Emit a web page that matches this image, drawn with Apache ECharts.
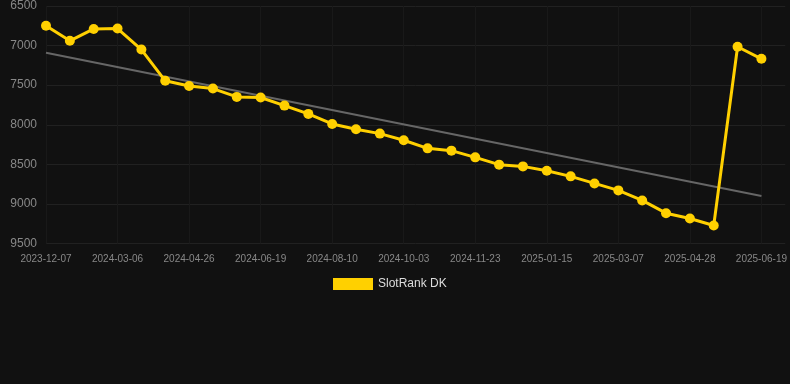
<!DOCTYPE html>
<html><head><meta charset="utf-8">
<script src="https://cdn.jsdelivr.net/npm/echarts@6/dist/echarts.min.js"></script>
<style>html,body{margin:0;padding:0;background:#111111;}#c{width:790px;height:384px;}</style>
</head><body><div id="c"></div>
<script>
const categories = ['2023-12-07','2024-01-06','2024-02-05','2024-03-06','2024-03-23','2024-04-09','2024-04-26','2024-05-14','2024-06-01','2024-06-19','2024-07-06','2024-07-24','2024-08-10','2024-08-28','2024-09-15','2024-10-03','2024-10-20','2024-11-06','2024-11-23','2024-12-11','2024-12-28','2025-01-15','2025-02-01','2025-02-18','2025-03-07','2025-03-24','2025-04-11','2025-04-28','2025-05-15','2025-06-02','2025-06-19',''];
const rankValues = [6750,6940,6790,6785,7050,7445,7510,7543,7648,7656,7758,7863,7990,8057,8112,8196,8298,8327,8412,8504,8526,8580,8652,8741,8829,8956,9117,9184,9272,7015,7167,null];
const trendStart = 7091;
const trendEnd = 8901;
const yTicks = [6500,7000,7500,8000,8500,9000,9500];

const trendData = categories.map((c,i)=> i===0 ? trendStart : (i===rankValues.length-2 ? trendEnd : null));

const chart = echarts.init(document.getElementById('c'));
chart.setOption({
  backgroundColor:'#111111',
  animation:false,
  grid:{left:46,right:4,top:6,bottom:140.5,containLabel:false},
  legend:{data:['SlotRank DK'],top:273,left:328,itemWidth:40,itemHeight:12,icon:'rect',
    textStyle:{color:'#dddddd',fontSize:12,fontFamily:'Liberation Sans, Arial'}},
  xAxis:{type:'category',data:categories,boundaryGap:false,
    axisLine:{show:false},axisTick:{show:false},
    axisLabel:{color:'#888888',fontSize:10,margin:11,interval:2,fontFamily:'Liberation Sans, Arial'},
    splitLine:{show:true,interval:2,lineStyle:{color:'#191919',width:1}}},
  yAxis:{type:'value',inverse:true,min:yTicks[0],max:yTicks[yTicks.length-1],interval:500,
    axisLine:{show:false},axisTick:{show:false},
    axisLabel:{color:'#888888',fontSize:12,margin:9,fontFamily:'Liberation Sans, Arial',formatter:v=>String(v)},
    splitLine:{lineStyle:{color:'#212121',width:1}}},
  series:[
    {name:'Trend',type:'line',data:trendData,connectNulls:true,showSymbol:false,symbol:'none',
      lineStyle:{color:'#666666',width:2},itemStyle:{color:'#666666'},z:1,silent:true},
    {name:'SlotRank DK',type:'line',data:rankValues,symbol:'circle',symbolSize:10,
      lineStyle:{color:'#FFD000',width:3},itemStyle:{color:'#FFD000'},z:2}
  ]
});
</script></body></html>
